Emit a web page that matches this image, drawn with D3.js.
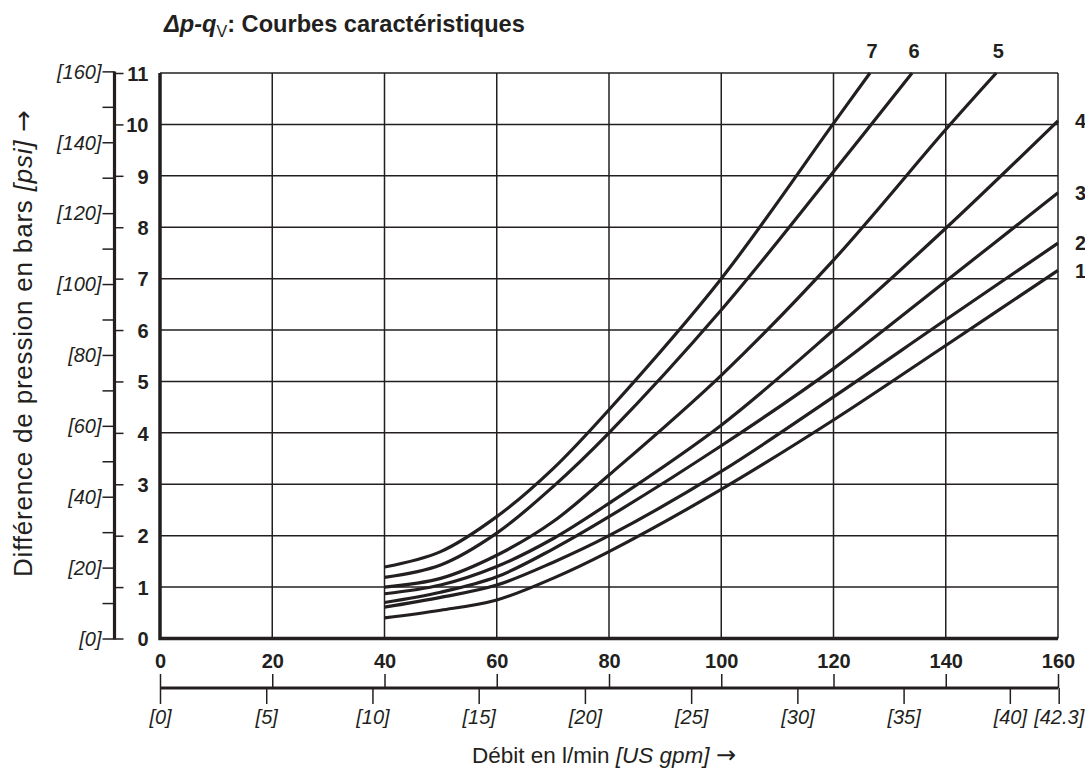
<!DOCTYPE html>
<html>
<head>
<meta charset="utf-8">
<script src="https://cdn.jsdelivr.net/npm/d3@7"></script>
<style>
  body { margin: 0; background: #fff; }
  svg { display: block; }
</style>
</head>
<body>
<svg id="chart"></svg>
<script>
// flow rate (l/min) where the curves were read
const flowLpm = [40, 50, 60, 70, 80, 100, 120, 140, 160];
const dp1 = [0.40, 0.55, 0.75, 1.17, 1.69, 2.90, 4.25, 5.70, 7.16];
const dp2 = [0.61, 0.80, 1.04, 1.48, 2.00, 3.25, 4.70, 6.20, 7.69];
const dp3 = [0.70, 0.90, 1.20, 1.74, 2.37, 3.75, 5.25, 6.95, 8.67];
const dp4 = [0.87, 1.04, 1.40, 1.94, 2.63, 4.15, 6.00, 7.98, 10.07];
// curves 5..7 leave the chart at the top (11 bar)
const flow5 = [40, 50, 60, 70, 80, 100, 120, 140, 149];
const dp5 = [1.00, 1.17, 1.62, 2.27, 3.18, 5.12, 7.36, 9.90, 11];
const flow6 = [40, 50, 60, 70, 80, 100, 120, 134];
const dp6 = [1.19, 1.43, 2.05, 2.95, 4.00, 6.39, 9.08, 11];
const flow7 = [40, 50, 60, 70, 80, 100, 120, 126.5];
const dp7 = [1.39, 1.69, 2.37, 3.30, 4.45, 7.00, 10.02, 11];
const curveNames = ['1', '2', '3', '4', '5', '6', '7'];

// axis ticks
const barTicks = d3.range(0, 12);
const lpmTicks = d3.range(0, 161, 20);
const psiTicks = d3.range(0, 161, 10);
const gpmTicks = [0, 5, 10, 15, 20, 25, 30, 35, 40, 42.3];

const PSI_PER_BAR = 14.5038;
const LPM_PER_GPM = 3.78541;

const W = 1085, H = 769;
const ink = '#231f20';
const sans = "'Liberation Sans', Arial, Helvetica, sans-serif";
const arrowFont = "'DejaVu Sans', sans-serif";

const svg = d3.select('#chart').attr('width', W).attr('height', H)
  .style('font-family', sans);

const x = d3.scaleLinear().domain([0, 160]).range([160, 1058]);
const y = d3.scaleLinear().domain([0, 11]).range([638.5, 73]);
const psi = d3.scaleLinear().domain([0, 11 * PSI_PER_BAR]).range(y.range());
const gpm = d3.scaleLinear().domain([0, 160 / LPM_PER_GPM]).range(x.range());

// grid
const grid = svg.append('g').attr('stroke', ink).attr('stroke-width', 1.5);
grid.selectAll('.vg').data(lpmTicks.slice(1)).join('line')
  .attr('x1', d => x(d)).attr('x2', d => x(d))
  .attr('y1', y(0)).attr('y2', y(11));
grid.selectAll('.hg').data(barTicks.slice(1)).join('line')
  .attr('x1', x(0)).attr('x2', x(160))
  .attr('y1', d => y(d)).attr('y2', d => y(d));

// thick left / bottom frame
svg.append('path')
  .attr('d', `M${x(0)},${y(11)}V${y(0)}H${x(160)}`)
  .attr('fill', 'none').attr('stroke', ink).attr('stroke-width', 3.5);

// curves
const series = [
  { name: curveNames[0], q: flowLpm, dp: dp1 },
  { name: curveNames[1], q: flowLpm, dp: dp2 },
  { name: curveNames[2], q: flowLpm, dp: dp3 },
  { name: curveNames[3], q: flowLpm, dp: dp4 },
  { name: curveNames[4], q: flow5, dp: dp5 },
  { name: curveNames[5], q: flow6, dp: dp6 },
  { name: curveNames[6], q: flow7, dp: dp7 }
];

svg.append('clipPath').attr('id', 'plot-clip')
  .append('rect').attr('x', x(0)).attr('y', y(11) - 1)
  .attr('width', x(160) - x(0) + 2).attr('height', y(0) - y(11) + 1);

const line = d3.line()
  .x(d => x(d[0])).y(d => y(d[1]))
  .curve(d3.curveCatmullRom.alpha(0.5));

svg.append('g').attr('clip-path', 'url(#plot-clip)')
  .selectAll('path').data(series).join('path')
  .attr('d', s => line(d3.zip(s.q, s.dp)))
  .attr('fill', 'none').attr('stroke', ink).attr('stroke-width', 3.2)
  .attr('stroke-linecap', 'butt');

// curve labels
const labels = svg.append('g').attr('font-weight', 'bold').attr('font-size', 20)
  .attr('fill', ink);
series.forEach(s => {
  const lastQ = s.q[s.q.length - 1], lastP = s.dp[s.dp.length - 1];
  if (lastP >= 11) {
    labels.append('text').attr('x', x(lastQ) + 2).attr('y', 58)
      .attr('text-anchor', 'middle').text(s.name);
  } else {
    labels.append('text').attr('x', 1075).attr('y', y(lastP))
      .attr('dy', '0.36em').text(s.name);
  }
});

// left axis: bar (right ticks) and psi (left ticks)
const axisX = 114.5;
svg.append('line').attr('x1', axisX).attr('x2', axisX)
  .attr('y1', psi(160)).attr('y2', y(0) + 1)
  .attr('stroke', ink).attr('stroke-width', 3.2);

const barAxis = svg.append('g').attr('transform', `translate(${axisX},0)`)
  .call(d3.axisRight(y).tickValues(barTicks).tickSize(9).tickFormat(d3.format('d')));
barAxis.select('.domain').remove();
barAxis.selectAll('line').attr('stroke', ink).attr('stroke-width', 1.5);
barAxis.selectAll('text').attr('x', 34).attr('text-anchor', 'end')
  .attr('dy', '0.36em').attr('fill', ink)
  .style('font', `bold 20px ${sans}`);

const psiAxis = svg.append('g').attr('transform', `translate(${axisX},0)`)
  .call(d3.axisLeft(psi).tickValues(psiTicks).tickSize(12)
    .tickFormat(d => d % 20 === 0 ? `[${d}]` : ''));
psiAxis.select('.domain').remove();
psiAxis.selectAll('line').attr('stroke', ink).attr('stroke-width', 1.5);
psiAxis.selectAll('text').attr('x', -13).attr('dy', '0.34em').attr('fill', ink)
  .style('font', `italic 20px ${sans}`);

// bottom: l/min labels under the plot
const lpmLabels = svg.append('g').attr('transform', `translate(0,${y(0)})`)
  .call(d3.axisBottom(x).tickValues(lpmTicks).tickSize(0).tickPadding(15));
lpmLabels.select('.domain').remove();
lpmLabels.selectAll('text').attr('fill', ink).style('font', `bold 20px ${sans}`);

// secondary flow axis (l/min ticks up, gpm ticks down)
const axisY = 688;
svg.append('line').attr('x1', x(0)).attr('x2', x(160))
  .attr('y1', axisY).attr('y2', axisY)
  .attr('stroke', ink).attr('stroke-width', 3.2);

const lpmTop = svg.append('g').attr('transform', `translate(0,${axisY})`)
  .call(d3.axisTop(x).tickValues(lpmTicks).tickSize(14).tickFormat(''));
lpmTop.select('.domain').remove();
lpmTop.selectAll('line').attr('stroke', ink).attr('stroke-width', 1.5);

const gpmAxis = svg.append('g').attr('transform', `translate(0,${axisY})`)
  .call(d3.axisBottom(gpm).tickValues(gpmTicks).tickSize(16).tickPadding(6)
    .tickFormat(d => `[${d}]`));
gpmAxis.select('.domain').remove();
gpmAxis.selectAll('line').attr('stroke', ink).attr('stroke-width', 1.5);
gpmAxis.selectAll('text').attr('fill', ink).style('font', `italic 20px ${sans}`);

// title
const title = svg.append('text').attr('x', 164).attr('y', 32)
  .attr('fill', ink).attr('font-weight', 'bold').attr('font-size', 23.6);
title.append('tspan').attr('font-style', 'italic').text('\u0394p-q');
title.append('tspan').attr('font-size', 16).attr('font-weight', 'normal')
  .attr('dy', 5).text('V');
title.append('tspan').attr('dy', -5).text(': Courbes caractéristiques');

// axis titles
const xTitle = svg.append('text').attr('x', 604).attr('y', 763)
  .attr('text-anchor', 'middle').attr('fill', ink).attr('font-size', 22.5);
xTitle.append('tspan').text('Débit en l/min ');
xTitle.append('tspan').attr('font-style', 'italic').text('[US gpm]');
xTitle.append('tspan').text(' ');
xTitle.append('tspan').style('font-family', arrowFont).attr('font-size', 24).text('\u2192');

const yTitle = svg.append('text')
  .attr('transform', 'translate(32,343) rotate(-90)')
  .attr('text-anchor', 'middle').attr('fill', ink).attr('font-size', 26)
  .attr('letter-spacing', 0.8);
yTitle.append('tspan').text('Différence de pression en bars ');
yTitle.append('tspan').attr('font-style', 'italic').text('[psi]');
yTitle.append('tspan').text(' ');
yTitle.append('tspan').style('font-family', arrowFont).attr('font-size', 26).text('\u2192');
</script>
</body>
</html>
